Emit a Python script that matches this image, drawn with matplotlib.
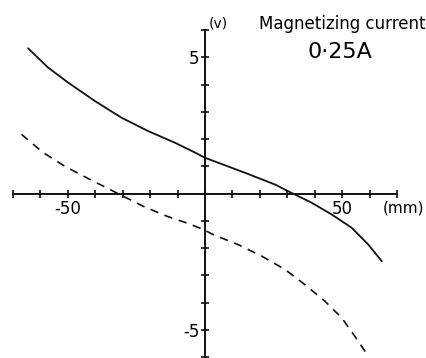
import matplotlib
matplotlib.use('Agg')
import matplotlib.pyplot as plt

plt.rcParams['font.family'] = ['DejaVu Sans']
plt.rcParams['axes.unicode_minus'] = False

# hall voltage along the gap, 0.25A magnetizing current
solid_x = [-64.5, -57.2, -49.9, -40.1, -30.4, -20.7, -10.9, -3.6, 0.0,
           14.6, 25.5, 31.0, 38.9, 46.2, 53.5, 59.6, 64.5]
solid_y = [5.33, 4.62, 4.07, 3.39, 2.78, 2.29, 1.86, 1.50, 1.31,
           0.76, 0.33, 0.05, -0.34, -0.77, -1.26, -1.88, -2.49]

dashed_x = [-66.9, -59.0, -51.1, -43.2, -34.7, -31.8, -22.5, -14.0, -6.7, -0.6,
            3.0, 12.2, 20.7, 29.2, 36.5, 43.8, 49.9, 54.7, 58.4]
dashed_y = [2.17, 1.50, 1.00, 0.58, 0.15, 0.00, -0.47, -0.83, -1.08, -1.32,
            -1.51, -1.88, -2.30, -2.79, -3.35, -3.96, -4.57, -5.25, -5.80]

x_ticks = list(range(-70, 71, 10))
y_ticks = list(range(-6, 7))
x_labels = {-50: '-50', 50: '50'}
y_labels = {-5: '-5', 5: '5'}

fig = plt.figure(figsize=(4.26, 3.58), dpi=100)
ax = fig.add_axes([13 / 426, 1 / 358, 384 / 426, 327 / 358])
ax.set_xlim(-70, 70)
ax.set_ylim(-6, 6)
ax.patch.set_visible(False)

for side in ['top', 'right']:
    ax.spines[side].set_visible(False)
ax.spines['left'].set_position('zero')
ax.spines['bottom'].set_position('zero')
for side in ['left', 'bottom']:
    ax.spines[side].set_linewidth(1.4)
    ax.spines[side].set_color('#111111')

ax.set_xticks(x_ticks)
ax.set_yticks(y_ticks)
ax.set_xticklabels([x_labels.get(t, '') for t in x_ticks])
ax.set_yticklabels([y_labels.get(t, '') for t in y_ticks])
ax.tick_params(direction='inout', length=6, width=1.2, color='#111111',
               labelsize=12, pad=1)
ax.tick_params(axis='x', pad=2)

ax.plot(solid_x, solid_y, color='#111111', lw=1.3,
        solid_capstyle='round', solid_joinstyle='round')
ax.plot(dashed_x, dashed_y, color='#111111', lw=1.2, linestyle=(0, (5, 4)))

ax.text(1.5, 6.25, '(v)', fontsize=10, ha='left', va='center', clip_on=False)
ax.text(72.5, -0.55, '(mm)', fontsize=11, ha='center', va='center', clip_on=False)
fig.text(342 / 426, 1 - 24 / 358, 'Magnetizing current', fontsize=12,
         ha='center', va='center')
fig.text(340 / 426, 1 - 52 / 358, '0\u00b725A', fontsize=16, ha='center', va='center')

fig.savefig('out.png', dpi=100)
